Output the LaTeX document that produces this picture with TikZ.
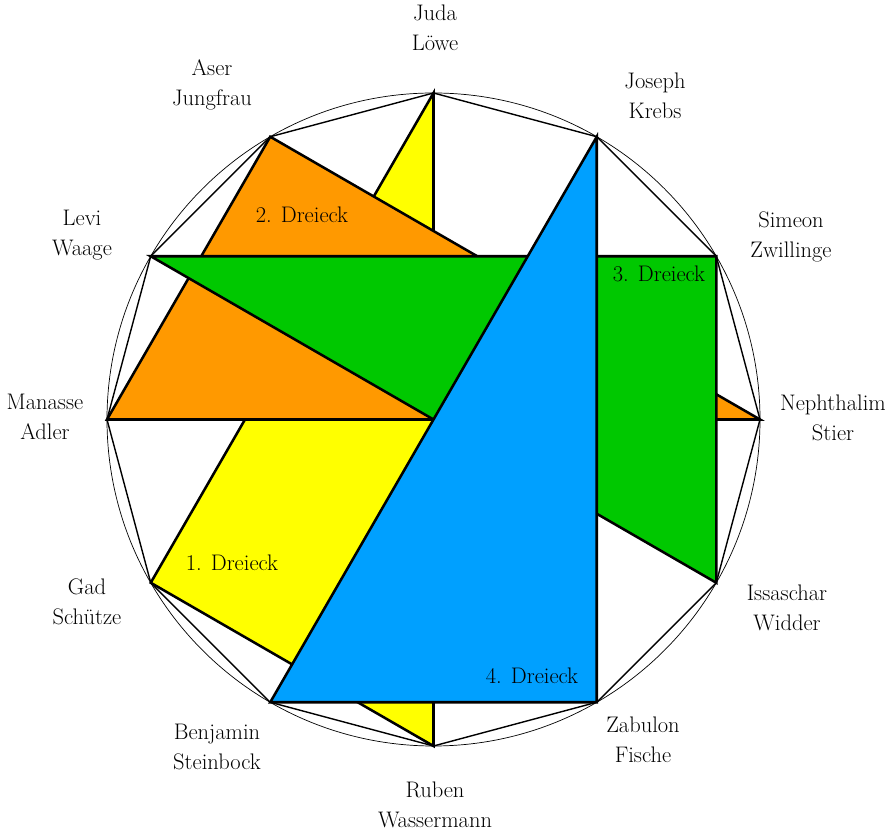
\documentclass[tikz,border=0pt]{standalone}
\usepackage{tikz}
\usetikzlibrary{positioning}
\tikzset{>=latex}
\definecolor{dreieckgelb}{RGB}{255,255,0}
\definecolor{dreieckorange}{RGB}{255,153,0}
\definecolor{dreieckgruen}{RGB}{0,200,0}
\definecolor{dreieckblau}{RGB}{0,160,255}
\tikzset{
	dreieck/.style={draw, line width=1.8pt, line join=miter},
	stamm/.style={align=center, inner sep=0pt}
}

\begin{document}
\begin{tikzpicture}[x=0.025cm, y=0.025cm, every node/.style={font=\fontsize{16}{21}\selectfont}]
		\useasboundingbox (-433.5,-412.5) rectangle (458.5,419.5);
		% points of the dodecagon.
		\foreach \n/\a in {juda/90, joseph/60, simeon/30, nephthalim/0, issaschar/-30, zabulon/-60, ruben/-90, benjamin/-120, gad/-150, manasse/180, levi/150, aser/120}
			\coordinate (\n) at (\a:326.5);
		
		\draw[line width=0.5pt] (0,0) circle (326.5);
		\draw[line width=1pt] (juda) -- (joseph) -- (simeon) -- (nephthalim) -- (issaschar) -- (zabulon) -- (ruben) -- (benjamin) -- (gad) -- (manasse) -- (levi) -- (aser) -- cycle;
		
		% the four triangles.
		\filldraw[dreieck, fill=dreieckgelb] (juda) -- (gad) -- (ruben) -- cycle;
		\filldraw[dreieck, fill=dreieckorange] (aser) -- (manasse) -- (nephthalim) -- cycle;
		\filldraw[dreieck, fill=dreieckgruen] (levi) -- (simeon) -- (issaschar) -- cycle;
		\filldraw[dreieck, fill=dreieckblau] (joseph) -- (zabulon) -- (benjamin) -- cycle;
		
		\node (dreieck1) at (-201.5,-143.5) {1. Dreieck};
		\node (dreieck2) at (-131.5,204.5) {2. Dreieck};
		\node (dreieck3) at (225.5,145.5) {3. Dreieck};
		\node (dreieck4) at (98.5,-256.5) {4. Dreieck};
		
		% tribes and signs.
		\node[stamm] (judal) at (1.5,391.5) {Juda\\Löwe};
		\node[stamm] (josephl) at (221.5,323.5) {Joseph\\Krebs};
		\node[stamm] (simeonl) at (357.5,182.5) {Simeon\\Zwillinge};
		\node[stamm] (nephthaliml) at (399.5,1.5) {Nephthalim\\Stier};
		\node[stamm] (issascharl) at (353.5,-188.5) {Issaschar\\Widder};
		\node[stamm] (zabulonl) at (209.5,-320.5) {Zabulon\\Fische};
		\node[stamm] (rubenl) at (1.5,-385.5) {Ruben\\Wassermann};
		\node[stamm] (benjaminl) at (-216.5,-327.5) {Benjamin\\Steinbock};
		\node[stamm] (gadl) at (-346.5,-182.5) {Gad\\Schütze};
		\node[stamm] (manassel) at (-388.5,2.5) {Manasse\\Adler};
		\node[stamm] (levil) at (-351.5,184.5) {Levi\\Waage};
		\node[stamm] (aserl) at (-221.5,334.5) {Aser\\Jungfrau};
	\end{tikzpicture}
\end{document}
